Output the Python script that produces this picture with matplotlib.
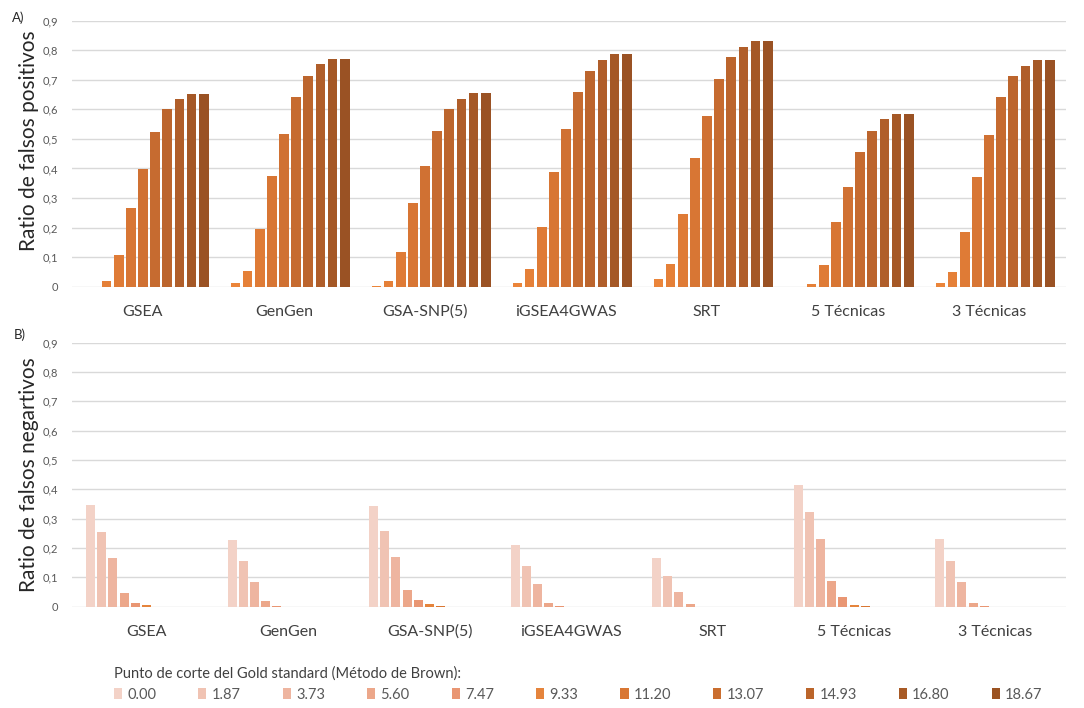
import numpy as np
import matplotlib.pyplot as plt

plt.rcParams['font.family'] = ['Lato', 'DejaVu Sans']

categories = ["GSEA", "GenGen", "GSA-SNP(5)", "iGSEA4GWAS", "SRT", "5 Técnicas", "3 Técnicas"]
thresholds = ["0.00", "1.87", "3.73", "5.60", "7.47", "9.33", "11.20", "13.07", "14.93", "16.80", "18.67"]

# A) ratio de falsos positivos, one list per technique (one value per threshold)
fp_gsea = [0, 0, 0.020, 0.107, 0.267, 0.397, 0.524, 0.600, 0.634, 0.651, 0.651]
fp_gengen = [0, 0.014, 0.054, 0.194, 0.376, 0.517, 0.643, 0.713, 0.752, 0.770, 0.770]
fp_gsasnp = [0, 0.004, 0.020, 0.118, 0.282, 0.409, 0.528, 0.600, 0.636, 0.654, 0.654]
fp_igsea = [0, 0.014, 0.059, 0.203, 0.389, 0.532, 0.659, 0.730, 0.766, 0.786, 0.786]
fp_srt = [0, 0.025, 0.077, 0.245, 0.434, 0.577, 0.703, 0.778, 0.812, 0.830, 0.830]
fp_5tec = [0, 0, 0.009, 0.073, 0.220, 0.338, 0.457, 0.528, 0.566, 0.584, 0.584]
fp_3tec = [0, 0.014, 0.051, 0.186, 0.372, 0.513, 0.641, 0.714, 0.748, 0.767, 0.767]

# B) ratio de falsos negativos
fn_gsea = [0.347, 0.256, 0.165, 0.046, 0.012, 0.005, 0, 0, 0, 0, 0]
fn_gengen = [0.227, 0.157, 0.083, 0.019, 0.004, 0, 0, 0, 0, 0, 0]
fn_gsasnp = [0.343, 0.259, 0.168, 0.057, 0.023, 0.008, 0.004, 0, 0, 0, 0]
fn_igsea = [0.210, 0.139, 0.076, 0.012, 0.004, 0, 0, 0, 0, 0, 0]
fn_srt = [0.165, 0.105, 0.049, 0.008, 0, 0, 0, 0, 0, 0, 0]
fn_5tec = [0.415, 0.324, 0.230, 0.088, 0.034, 0.007, 0.004, 0, 0, 0, 0]
fn_3tec = [0.230, 0.156, 0.083, 0.012, 0.004, 0, 0, 0, 0, 0, 0]

fp = np.array([fp_gsea, fp_gengen, fp_gsasnp, fp_igsea, fp_srt, fp_5tec, fp_3tec])
fn = np.array([fn_gsea, fn_gengen, fn_gsasnp, fn_igsea, fn_srt, fn_5tec, fn_3tec])

colors_a = ['#F08C40', '#EB853A', '#E58038', '#DF7B36', '#D87634', '#D07133',
            '#C66B30', '#BC652D', '#B05E2A', '#A55826', '#9A5224']
colors_b = ['#F3D2C7', '#F0C3B3', '#EEB5A0', '#ECA78A', '#E99673', '#E5843C',
            '#D97733', '#CA6E2F', '#BB652B', '#A85A25', '#9B5322']

W, H = 1084, 708
fig = plt.figure(figsize=(W / 100, H / 100), dpi=100)

grid_c = '#D9D9D9'
text_c = '#595959'


def draw_panel(ax, data, colors, pitch, width, ylabel):
    x = np.arange(len(categories))
    n = data.shape[1]
    bars = []
    for j in range(n):
        off = (j - (n - 1) / 2) * pitch
        b = ax.bar(x + off, data[:, j], width, color=colors[j], label=thresholds[j], zorder=3)
        bars.append(b)
    ax.set_ylim(0, 0.9)
    ax.set_yticks(np.arange(0, 0.91, 0.1))
    ax.set_yticklabels(['0'] + ['0,%d' % i for i in range(1, 10)], fontsize=8, color=text_c)
    ax.set_xticks(x)
    ax.set_xticklabels(categories, fontsize=11.5, color='#404040')
    ax.tick_params(axis='both', length=0)
    ax.tick_params(axis='y', pad=10)
    ax.tick_params(axis='x', pad=13)
    ax.grid(axis='y', color=grid_c, linewidth=1, zorder=0)
    for s in ax.spines.values():
        s.set_visible(False)
    ax.set_ylabel(ylabel, fontsize=15, color='#262626', labelpad=0)
    return bars


# panel A
ax_a = fig.add_axes([72 / W, 1 - 286.7 / H, (1066 - 72) / W, 266 / H])
draw_panel(ax_a, fp, colors_a, 0.0862, 0.069, "Ratio de falsos positivos")
ax_a.set_xlim(-0.5035, 6.546)
ax_a.yaxis.set_label_coords(-33 / 994, 0.55)

# panel B
ax_b = fig.add_axes([72 / W, 1 - 606.7 / H, (1066 - 72) / W, 264 / H])
bars_b = draw_panel(ax_b, fn, colors_b, 0.0792, 0.0636, "Ratio de falsos negartivos")
ax_b.set_xlim(-0.527, 6.4975)
ax_b.yaxis.set_label_coords(-33 / 994, 0.5)

fig.text(12 / W, 1 - 18 / H, "A)", fontsize=9.5, color='#262626', va='center')
fig.text(14 / W, 1 - 335 / H, "B)", fontsize=9.5, color='#262626', va='center')

leg = fig.legend(handles=bars_b, labels=thresholds, ncol=11, loc='upper left',
                 bbox_to_anchor=(114 / W, 1 - 666 / H), frameon=False,
                 title="Punto de corte del Gold standard (Método de Brown):",
                 title_fontsize=10.5, fontsize=10.5, alignment='left',
                 handlelength=0.55, handleheight=0.75, handletextpad=0.35,
                 columnspacing=2.9, borderpad=0, borderaxespad=0)
for t in leg.get_texts():
    t.set_color(text_c)
leg.get_title().set_color('#404040')

fig.savefig("out.png", dpi=100)
